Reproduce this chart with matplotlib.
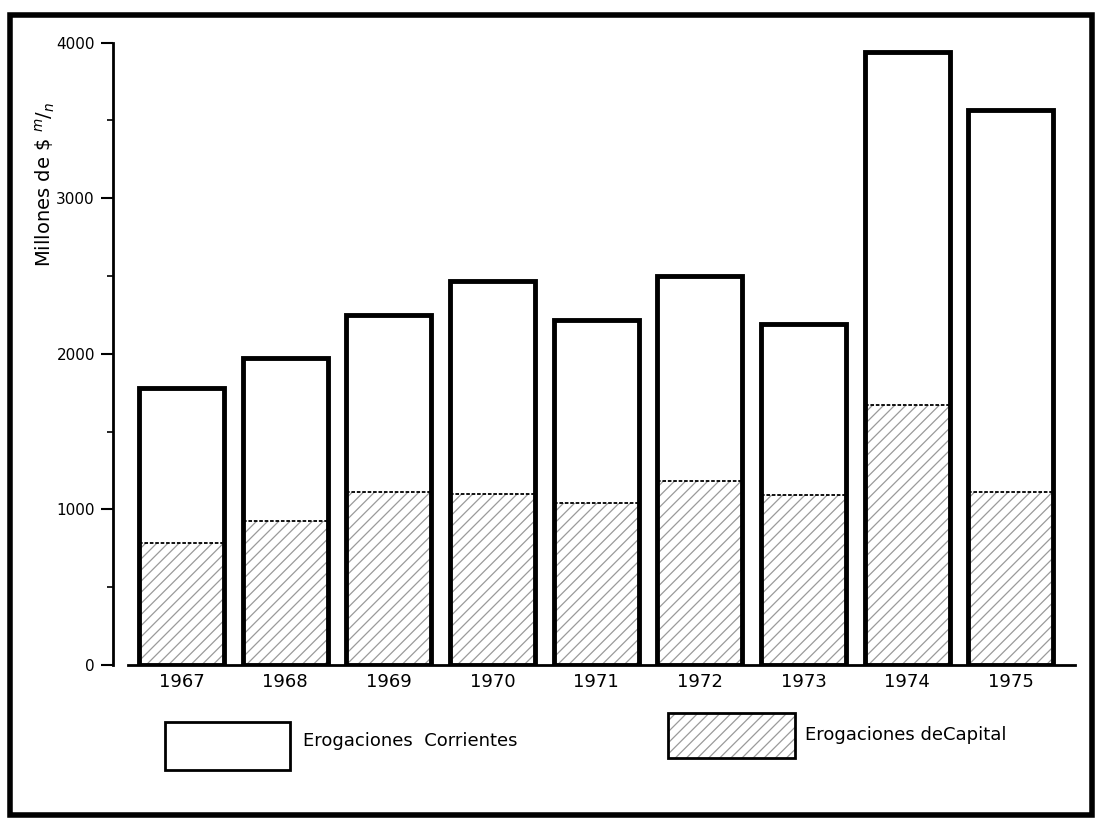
import matplotlib.pyplot as plt
from matplotlib.patches import Rectangle
from matplotlib.ticker import MultipleLocator

years = ["1967", "1968", "1969", "1970", "1971", "1972", "1973", "1974", "1975"]
capital = [785, 925, 1110, 1100, 1040, 1180, 1090, 1670, 1110]
total = [1780, 1975, 2250, 2470, 2220, 2500, 2190, 3940, 3570]
corrientes = [t - c for t, c in zip(total, capital)]

plt.rcParams['font.family'] = ['Liberation Sans Narrow', 'DejaVu Sans']
plt.rcParams['hatch.linewidth'] = 0.9

fig = plt.figure(figsize=(10.97, 8.21), dpi=100)
ax = fig.add_axes([0.103, 0.19, 0.877, 0.758])

x = list(range(len(years)))
w = 0.82

ax.bar(x, capital, w, color='white', edgecolor='#9a9a9a', linewidth=0, hatch='///')
ax.bar(x, corrientes, w, bottom=capital, color='white', linewidth=0)
ax.bar(x, total, w, color='none', edgecolor='black', linewidth=3.5)
ax.hlines(capital, [i - w / 2 for i in x], [i + w / 2 for i in x],
          colors='black', linewidth=1.3, linestyles=(0, (2, 1)))

ax.set_xlim(-0.66, 8.62)
ax.set_ylim(0, 4000)
ax.set_xticks(x)
ax.set_xticklabels(years, fontsize=13)
ax.tick_params(axis='x', length=0, pad=6)
ax.set_yticks([0, 1000, 2000, 3000, 4000])
ax.set_yticklabels(["0", "1000", "2000", "3000", "4000"], fontsize=11)
ax.yaxis.set_minor_locator(MultipleLocator(500))
ax.tick_params(axis='y', which='major', length=9, width=1.5, pad=4)
ax.tick_params(axis='y', which='minor', length=4, width=1.2)

for s in ['top', 'right']:
    ax.spines[s].set_visible(False)
ax.spines['left'].set_linewidth(2)
ax.spines['bottom'].set_linewidth(2)
ax.spines['bottom'].set_bounds(-0.52, 8.62)

fig.text(0.041, 0.775, r'Millones de \$ $^{m}/_{n}$', rotation=90,
         fontsize=14, ha='center', va='center')

# legend boxes
fig.patches.append(Rectangle((165 / 1097, 1 - 770 / 821), 125 / 1097, 48 / 821,
                             transform=fig.transFigure, facecolor='white',
                             edgecolor='black', linewidth=2))
fig.text(303 / 1097, 1 - 741 / 821, 'Erogaciones  Corrientes', fontsize=13,
         ha='left', va='center')
fig.patches.append(Rectangle((668 / 1097, 1 - 758 / 821), 127 / 1097, 45 / 821,
                             transform=fig.transFigure, facecolor='white',
                             edgecolor='#9a9a9a', linewidth=0, hatch='///'))
fig.patches.append(Rectangle((668 / 1097, 1 - 758 / 821), 127 / 1097, 45 / 821,
                             transform=fig.transFigure, facecolor='none',
                             edgecolor='black', linewidth=2))
fig.text(805 / 1097, 1 - 735 / 821, 'Erogaciones deCapital', fontsize=13,
         ha='left', va='center')

# page frame
fig.patches.append(Rectangle((10 / 1097, 1 - 815 / 821), 1082 / 1097, 800 / 821,
                             transform=fig.transFigure, facecolor='none',
                             edgecolor='black', linewidth=4))

fig.savefig('out.png', dpi=100)
